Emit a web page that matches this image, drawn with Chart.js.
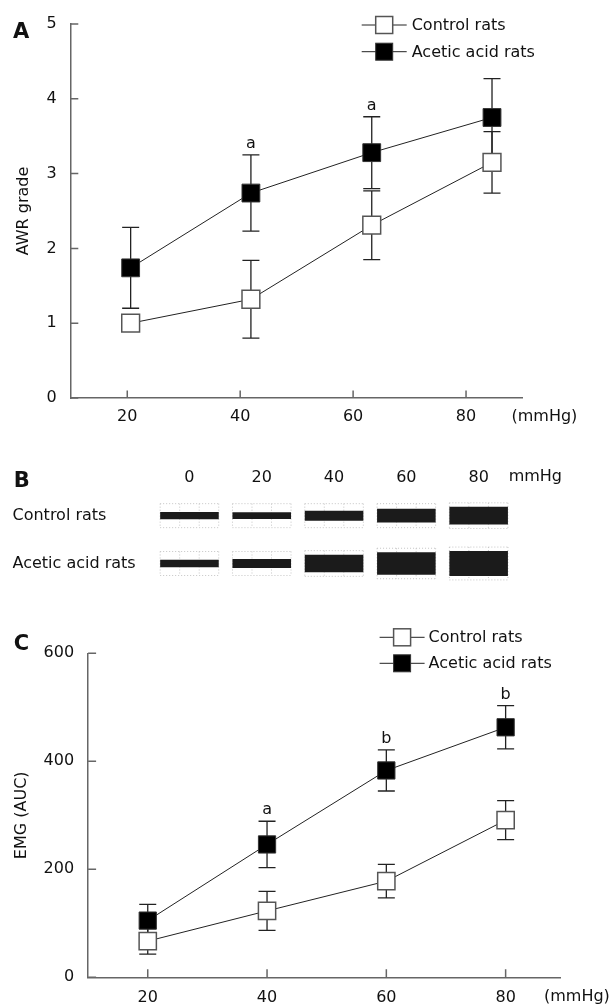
<!DOCTYPE html>
<html><head><meta charset="utf-8">
<script src="https://cdn.jsdelivr.net/npm/chart.js@4.4.1/dist/chart.umd.min.js"></script>
<style>
html,body{margin:0;padding:0;background:#fff;}
body{width:614px;height:1007px;position:relative;overflow:hidden;}
canvas{position:absolute;left:0;}
</style></head><body>
<canvas id="cA" width="614" height="440" style="top:0px"></canvas>
<canvas id="cB" width="614" height="140" style="top:460px"></canvas>
<canvas id="cC" width="614" height="407" style="top:600px"></canvas>
<script>
// ---------- DATA ----------
const seriesNames = ['Control rats', 'Acetic acid rats'];
const pressureTicks = [20, 40, 60, 80];
const unitText = '(mmHg)';

// Panel A: AWR grade (points plotted slightly right of the ticks, as in the figure)
const awrX = [20.6, 41.9, 63.3, 84.6];
const awrControl = [1.0, 1.32, 2.31, 3.15];
const awrControlSD = [0, 0.52, 0.46, 0.41];
const awrAcetic = [1.74, 2.74, 3.28, 3.75];
const awrAceticSD = [0.54, 0.51, 0.48, 0.52];
const awrSig = ['', 'a', 'a', ''];
const awrTicksY = [0, 1, 2, 3, 4, 5];

// Panel B: EMG trace amplitude (peak-to-peak, row units)
const traceLabels = ['0', '20', '40', '60', '80'];
const traceUnit = 'mmHg';
const traceRows = ['Control rats', 'Acetic acid rats'];
const traceRowPos = [1, 0];
const traceControl = [0.15, 0.14, 0.21, 0.29, 0.37];
const traceAcetic = [0.16, 0.19, 0.37, 0.47, 0.52];

// Panel C: EMG (AUC)
const emgX = [20, 40, 60, 80];
const emgControl = [67, 123, 178, 291];
const emgControlSD = [24, 36, 31, 36];
const emgAcetic = [105, 246, 383, 463];
const emgAceticSD = [30, 43, 38, 40];
const emgSig = ['', 'a', 'b', 'b'];

// ---------- STYLE ----------
Chart.defaults.font.family = "'DejaVu Sans', Verdana, sans-serif";
Chart.defaults.font.size = 16;
Chart.defaults.color = '#111';
const AXIS = '#666';

// ---------- PLUGINS ----------
const errorBars = {
  id: 'errorBars',
  beforeDatasetsDraw(chart, args, o) {
    const {ctx, scales: {x, y}} = chart;
    ctx.save(); ctx.strokeStyle = o.color; ctx.lineWidth = o.width;
    chart.data.datasets.forEach(ds => {
      if (!ds.errors) return;
      ds.data.forEach((p, i) => {
        const e = ds.errors[i]; if (!e) return;
        const px = x.getPixelForValue(p.x);
        const t = y.getPixelForValue(p.y + e), b = y.getPixelForValue(p.y - e);
        ctx.beginPath();
        ctx.moveTo(px, t); ctx.lineTo(px, b);
        ctx.moveTo(px - o.cap, t); ctx.lineTo(px + o.cap, t);
        ctx.moveTo(px - o.cap, b); ctx.lineTo(px + o.cap, b);
        ctx.stroke();
      });
    });
    ctx.restore();
  }
};
const sigLetters = {
  id: 'sigLetters',
  afterDatasetsDraw(chart, args, o) {
    const {ctx, scales: {x, y}} = chart;
    ctx.save(); ctx.fillStyle = '#111'; ctx.font = o.font; ctx.textAlign = 'center'; ctx.textBaseline = 'alphabetic';
    chart.data.datasets.forEach(ds => {
      if (!ds.sig) return;
      ds.data.forEach((p, i) => {
        if (!ds.sig[i]) return;
        const px = x.getPixelForValue(p.x);
        const t = y.getPixelForValue(p.y + (ds.errors ? ds.errors[i] : 0));
        ctx.fillText(ds.sig[i], px, t - o.gap);
      });
    });
    ctx.restore();
  }
};
const inTicks = {
  id: 'inTicks',
  afterDraw(chart, args, o) {
    const {ctx, chartArea: a, scales: {x, y}} = chart;
    ctx.save(); ctx.strokeStyle = o.color; ctx.lineWidth = o.width;
    ctx.beginPath();
    x.ticks.forEach((t, i) => { const px = x.getPixelForTick(i); ctx.moveTo(px, a.bottom); ctx.lineTo(px, a.bottom - o.len); });
    y.ticks.forEach((t, i) => { const py = y.getPixelForTick(i); ctx.moveTo(a.left, py); ctx.lineTo(a.left + o.len, py); });
    ctx.stroke();
    ctx.restore();
  }
};
const customLegend = {
  id: 'customLegend',
  afterDraw(chart, args, o) {
    const ctx = chart.ctx;
    ctx.save();
    chart.data.datasets.forEach((ds, i) => {
      const yy = o.y + i * o.rowGap;
      ctx.strokeStyle = ds.borderColor; ctx.lineWidth = 1;
      ctx.beginPath(); ctx.moveTo(o.x, yy); ctx.lineTo(o.x + o.lineLen, yy); ctx.stroke();
      const cx = o.x + o.lineLen / 2, s = o.box;
      ctx.fillStyle = ds.pointBackgroundColor; ctx.fillRect(cx - s / 2, yy - s / 2, s, s);
      ctx.strokeStyle = ds.pointBorderColor; ctx.lineWidth = ds.pointBorderWidth;
      ctx.strokeRect(cx - s / 2, yy - s / 2, s, s);
      ctx.fillStyle = '#111'; ctx.font = o.font; ctx.textAlign = 'left'; ctx.textBaseline = 'middle';
      ctx.fillText(ds.label, o.x + o.lineLen + o.gap, yy + 1);
    });
    ctx.restore();
  }
};
const extraText = {
  id: 'extraText',
  afterDraw(chart, args, o) {
    const ctx = chart.ctx;
    ctx.save(); ctx.fillStyle = '#111';
    (o.items || []).forEach(it => {
      ctx.font = it.font; ctx.textAlign = 'left'; ctx.textBaseline = it.baseline || 'alphabetic';
      let x = it.x, y = it.y;
      if (it.afterLastX) { const s = chart.scales.x; x = s.getPixelForTick(s.ticks.length - 1) + it.afterLastX; }
      if (it.belowX !== undefined) { y = chart.scales.x.top + it.belowX; }
      ctx.fillText(it.text, x, y);
    });
    ctx.restore();
  }
};
const traceGrid = {
  id: 'traceGrid',
  beforeDatasetsDraw(chart, args, o) {
    const ctx = chart.ctx;
    ctx.save(); ctx.strokeStyle = o.color; ctx.lineWidth = 1; ctx.setLineDash([1, 2]);
    chart.data.datasets.forEach((ds, di) => {
      chart.getDatasetMeta(di).data.forEach(bar => {
        const p = bar.getProps(['x', 'y', 'base', 'width'], true);
        const cy = (p.y + p.base) / 2;
        const half = Math.max(o.minHalf, Math.abs(p.base - p.y) / 2 + o.extra);
        const l = p.x - p.width / 2, r = p.x + p.width / 2;
        ctx.beginPath();
        [cy - half, cy, cy + half].forEach(yy => { ctx.moveTo(l, yy); ctx.lineTo(r, yy); });
        for (let k = 0; k <= 3; k++) { const xx = l + k * p.width / 3; ctx.moveTo(xx, cy - half); ctx.lineTo(xx, cy + half); }
        ctx.stroke();
      });
    });
    ctx.restore();
  }
};

function seriesDatasets(xs, ctrl, ctrlSD, acet, acetSD, sig, r) {
  return [
    { label: seriesNames[0], data: xs.map((x, i) => ({x, y: ctrl[i]})), errors: ctrlSD,
      borderColor: '#222', borderWidth: 1, pointStyle: 'rect', pointRadius: r,
      pointBackgroundColor: '#fff', pointBorderColor: '#555', pointBorderWidth: 1.5 },
    { label: seriesNames[1], data: xs.map((x, i) => ({x, y: acet[i]})), errors: acetSD, sig: sig,
      borderColor: '#222', borderWidth: 1, pointStyle: 'rect', pointRadius: r,
      pointBackgroundColor: '#000', pointBorderColor: '#333', pointBorderWidth: 1 }
  ];
}

function axisCommon() {
  return { grid: {display: false, drawTicks: false}, border: {display: true, color: AXIS, width: 1.5} };
}

// ---------- PANEL A ----------
new Chart(document.getElementById('cA'), {
  type: 'line',
  data: { datasets: seriesDatasets(awrX, awrControl, awrControlSD, awrAcetic, awrAceticSD, awrSig, 12.6) },
  options: {
    responsive: false, animation: false, events: [],
    layout: { padding: {left: 0, top: 24, right: 91.5, bottom: 0} },
    scales: {
      x: Object.assign(axisCommon(), { type: 'linear', min: 10, max: 90,
        afterBuildTicks: s => { s.ticks = pressureTicks.map(v => ({value: v})); },
        afterFit: s => { s.height = 440 - 398; },
        ticks: {padding: 9, maxRotation: 0, autoSkip: false} }),
      y: Object.assign(axisCommon(), { type: 'linear', min: 0, max: 5,
        afterBuildTicks: s => { s.ticks = awrTicksY.map(v => ({value: v})); },
        afterFit: s => { s.width = 70.8; },
        ticks: {padding: 14},
        title: {display: true, text: 'AWR grade', padding: {top: 14, bottom: 0}, font: {size: 16}} })
    },
    plugins: {
      legend: {display: false}, tooltip: {enabled: false},
      errorBars: {color: '#222', width: 1.3, cap: 8.5},
      sigLetters: {font: "16px 'DejaVu Sans'", gap: 7},
      inTicks: {color: AXIS, width: 1.5, len: 7.5},
      customLegend: {x: 361.7, y: 25, rowGap: 26.7, lineLen: 45, gap: 5, box: 17, font: "16px 'DejaVu Sans'"},
      extraText: {items: [
        {text: unitText, x: 511.5, belowX: 19, baseline: 'middle', font: "16px 'DejaVu Sans'"},
        {text: 'A', x: 13, y: 38, font: "bold 21px 'DejaVu Sans'"}
      ]}
    }
  },
  plugins: [errorBars, sigLetters, inTicks, customLegend, extraText]
});

// ---------- PANEL B ----------
new Chart(document.getElementById('cB'), {
  type: 'bar',
  data: { labels: traceLabels, datasets: [
    { label: traceRows[0], data: traceControl.map(a => [traceRowPos[0] - a / 2, traceRowPos[0] + a / 2]),
      backgroundColor: '#1b1b1b', grouped: false, barPercentage: 0.81, categoryPercentage: 1, borderWidth: 0 },
    { label: traceRows[1], data: traceAcetic.map(a => [traceRowPos[1] - a / 2, traceRowPos[1] + a / 2]),
      backgroundColor: '#1b1b1b', grouped: false, barPercentage: 0.81, categoryPercentage: 1, borderWidth: 0 }
  ]},
  options: {
    responsive: false, animation: false, events: [],
    layout: { padding: {left: 12.5, right: 99.2, top: 0, bottom: 5.25} },
    scales: {
      x: { position: 'top', grid: {display: false, drawTicks: false}, border: {display: false},
        ticks: {padding: 4.7, maxRotation: 0, autoSkip: false}, afterFit: s => { s.height = 31.75; } },
      y: { type: 'linear', min: -0.5, max: 1.5, grid: {display: false, drawTicks: false}, border: {display: false},
        afterBuildTicks: s => { s.ticks = traceRowPos.map(v => ({value: v})); },
        ticks: {crossAlign: 'far', callback: v => traceRows[traceRowPos.indexOf(v)]},
        afterFit: s => { s.width = 153.3 - 12.5; } }
    },
    plugins: {
      legend: {display: false}, tooltip: {enabled: false},
      traceGrid: {color: '#c4c4c4', minHalf: 12, extra: 4},
      extraText: {items: [
        {text: traceUnit, afterLastX: 30, y: 16.7, baseline: 'middle', font: "16px 'DejaVu Sans'"},
        {text: 'B', x: 13.7, y: 27, font: "bold 21px 'DejaVu Sans'"}
      ]}
    }
  },
  plugins: [traceGrid, extraText]
});

// ---------- PANEL C ----------
new Chart(document.getElementById('cC'), {
  type: 'line',
  data: { datasets: seriesDatasets(emgX, emgControl, emgControlSD, emgAcetic, emgAceticSD, emgSig, 12.2) },
  options: {
    responsive: false, animation: false, events: [],
    layout: { padding: {left: 0, top: 53.3, right: 53.5, bottom: 0} },
    scales: {
      x: Object.assign(axisCommon(), { type: 'linear', min: 10, max: 89.2,
        afterBuildTicks: s => { s.ticks = pressureTicks.map(v => ({value: v})); },
        afterFit: s => { s.height = 407 - 377.3; },
        ticks: {padding: 10.5, maxRotation: 0, autoSkip: false} }),
      y: Object.assign(axisCommon(), { type: 'linear', min: 0, max: 600,
        ticks: {stepSize: 200, padding: 14},
        afterFit: s => { s.width = 88.1; },
        title: {display: true, text: 'EMG (AUC)', padding: {top: 12, bottom: 0}, font: {size: 16}} })
    },
    plugins: {
      legend: {display: false}, tooltip: {enabled: false},
      errorBars: {color: '#222', width: 1.3, cap: 8.5},
      sigLetters: {font: "16px 'DejaVu Sans'", gap: 7},
      inTicks: {color: AXIS, width: 1.5, len: 8},
      customLegend: {x: 379.6, y: 37.3, rowGap: 26, lineLen: 45, gap: 4, box: 17, font: "16px 'DejaVu Sans'"},
      extraText: {items: [
        {text: unitText, x: 544, belowX: 20, baseline: 'middle', font: "16px 'DejaVu Sans'"},
        {text: 'C', x: 13.7, y: 50, font: "bold 21px 'DejaVu Sans'"}
      ]}
    }
  },
  plugins: [errorBars, sigLetters, inTicks, customLegend, extraText]
});
</script>
</body></html>
